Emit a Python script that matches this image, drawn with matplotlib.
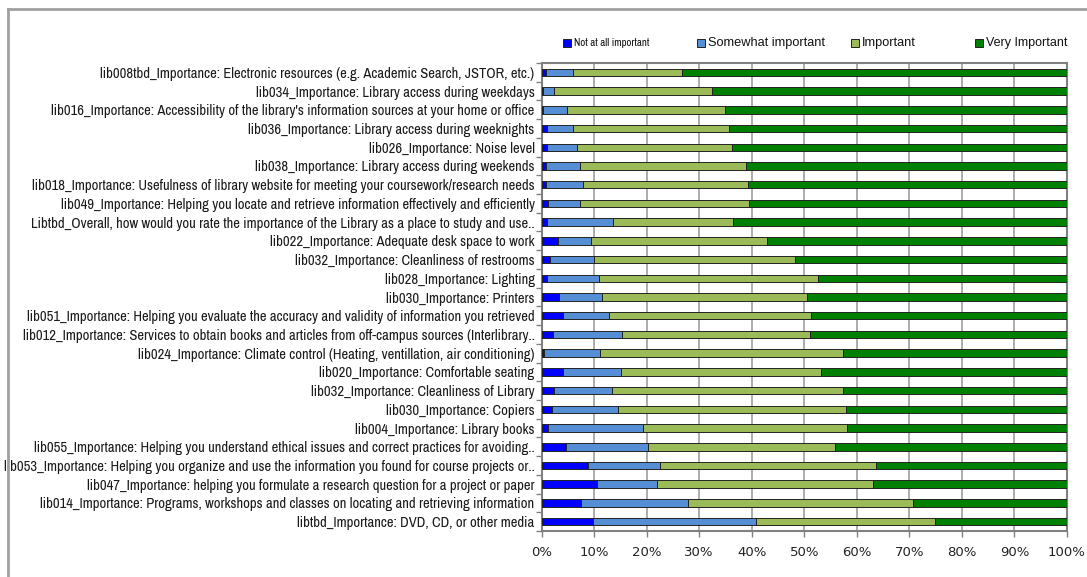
import matplotlib
matplotlib.use("Agg")
import matplotlib.pyplot as plt
from matplotlib.patches import Rectangle
from matplotlib.lines import Line2D
import numpy as np

# Questions (top to bottom)
labels = [
    "lib008tbd_Importance: Electronic resources (e.g. Academic Search, JSTOR, etc.)",
    "lib034_Importance: Library access during weekdays",
    "lib016_Importance: Accessibility of the library's information sources at your home or office",
    "lib036_Importance: Library access during weeknights",
    "lib026_Importance: Noise level",
    "lib038_Importance: Library access during weekends",
    "lib018_Importance: Usefulness of library website for meeting your coursework/research needs",
    "lib049_Importance: Helping you locate and retrieve information effectively and efficiently",
    "Libtbd_Overall, how would you rate the importance of the Library as a place to study and use..",
    "lib022_Importance: Adequate desk space to work",
    "lib032_Importance: Cleanliness of restrooms",
    "lib028_Importance: Lighting",
    "lib030_Importance: Printers",
    "lib051_Importance: Helping you evaluate the accuracy and validity of information you retrieved",
    "lib012_Importance: Services to obtain books and articles from off-campus sources (Interlibrary..",
    "lib024_Importance: Climate control (Heating, ventillation, air conditioning)",
    "lib020_Importance: Comfortable seating",
    "lib032_Importance: Cleanliness of Library",
    "lib030_Importance: Copiers",
    "lib004_Importance: Library books",
    "lib055_Importance: Helping you understand ethical issues and correct practices for avoiding..",
    "lib053_Importance: Helping you organize and use the information you found for course projects or..",
    "lib047_Importance: helping you formulate a research question for a project or paper",
    "lib014_Importance: Programs, workshops and classes on locating and retrieving information",
    "libtbd_Importance: DVD, CD, or other media",
]

# Percentages per answer
not_at_all = [0.9, 0.2, 0.3, 1.0, 1.1, 0.9, 0.9, 1.3, 1.0, 3.2, 1.6, 1.0, 3.3,
              4.1, 2.2, 0.5, 4.0, 2.4, 1.9, 1.2, 4.6, 8.9, 10.5, 7.6, 9.8]
somewhat = [5.1, 2.2, 4.6, 5.0, 5.6, 6.4, 6.9, 6.0, 12.6, 6.2, 8.4, 9.9, 8.2,
            8.7, 13.2, 10.6, 11.2, 11.0, 12.6, 18.2, 15.7, 13.7, 11.4, 20.2, 31.0]
important = [20.7, 30.1, 30.1, 29.7, 29.6, 31.7, 31.4, 32.1, 22.9, 33.6, 38.2, 41.7, 39.0,
             38.5, 35.7, 46.3, 37.9, 44.0, 43.4, 38.7, 35.6, 41.1, 41.2, 42.9, 34.1]
very = [73.3, 67.5, 65.0, 64.3, 63.7, 61.0, 60.8, 60.6, 63.5, 57.0, 51.8, 47.4, 49.5,
        48.7, 48.9, 42.6, 46.9, 42.6, 42.1, 41.9, 44.1, 36.3, 36.9, 29.3, 25.1]

series_names = ["Not at all important", "Somewhat important", "Important", "Very Important"]
colors = ["#0000FF", "#558ED5", "#9BBB59", "#008000"]

narrow = ["Archivo Narrow", "DejaVu Sans"]
arial = ["Liberation Sans", "DejaVu Sans"]

fig = plt.figure(figsize=(10.87, 5.77), dpi=100)
ax = fig.add_axes([0.4982, 0.0797, 0.4834, 0.8111])

y = np.arange(len(labels))
left = np.zeros(len(labels))
for vals, col in zip([not_at_all, somewhat, important, very], colors):
    ax.barh(y, vals, left=left, height=0.4, color=col, edgecolor="#222222",
            linewidth=0.7, zorder=3)
    left = left + np.array(vals)

ax.set_xlim(0, 100)
ax.set_ylim(len(labels) - 0.5, -0.5)
ax.set_xticks(np.arange(0, 101, 10))
ax.set_xticklabels([f"{v}%" for v in range(0, 101, 10)], fontsize=9.5,
                   family="DejaVu Sans", color="#222222")
ax.set_yticks(y)
ax.set_yticklabels(labels, fontsize=10.5, family=narrow, color="#1a1a1a")
ax.set_yticks(np.arange(-0.5, len(labels), 1), minor=True)
ax.tick_params(axis="y", which="major", length=0, pad=5)
ax.tick_params(axis="y", which="minor", length=4, color="#808080", width=1)
ax.tick_params(axis="x", length=4, color="#808080", width=1, pad=7)
ax.grid(axis="x", color="#A6A6A6", linewidth=1.3, zorder=0)
for s in ax.spines.values():
    s.set_color("#808080")
    s.set_linewidth(1.5)

# legend drawn by hand (first entry uses a smaller font)
leg_x = [567, 701, 855, 979]
leg_fs = [7.8, 9.2, 9.2, 9.0]
leg_fam = [narrow, arial, arial, arial]
W, H = 1087, 577
for xp, name, col, fs, fam in zip(leg_x, series_names, colors, leg_fs, leg_fam):
    fig.add_artist(Rectangle(((xp - 4) / W, 1 - 47 / H), 8 / W, 8 / H,
                             facecolor=col, edgecolor="#222222", linewidth=0.7,
                             transform=fig.transFigure))
    fig.text((xp + 7) / W, 1 - 43 / H, name, fontsize=fs, family=fam,
             va="center", ha="left", color="#111111")

# outer chart border (clipped at the right and bottom)
fig.add_artist(Line2D([8 / W, 8 / W], [0, 1 - 9 / H], color="#A0A0A0", linewidth=2,
                      transform=fig.transFigure))
fig.add_artist(Line2D([8 / W, 1], [1 - 9 / H, 1 - 9 / H], color="#A0A0A0", linewidth=2,
                      transform=fig.transFigure))

fig.savefig("out.png", dpi=100)
